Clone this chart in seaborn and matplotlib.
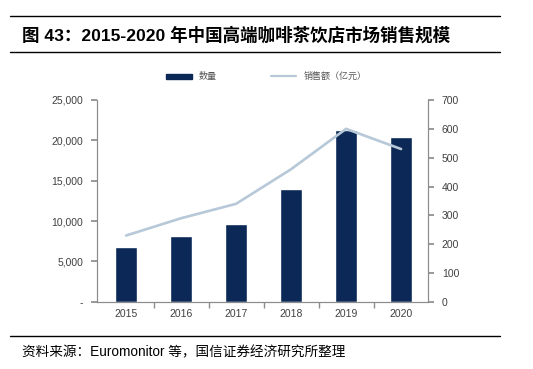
import matplotlib
matplotlib.use("Agg")
import matplotlib.pyplot as plt
import seaborn as sns
import pandas as pd
from matplotlib.ticker import FuncFormatter, FixedLocator
from matplotlib.lines import Line2D
from matplotlib.patches import Patch

years = ["2015", "2016", "2017", "2018", "2019", "2020"]
store_count = [6800, 8200, 9700, 14000, 21300, 20400]
sales = [230, 290, 340, 460, 600, 530]
bar_label = "数量"
line_label = "销售额（亿元）"
title = "图 43：2015-2020 年中国高端咖啡茶饮店市场销售规模"
source = "资料来源：Euromonitor 等，国信证券经济研究所整理"

sns.set_theme(style="white")
plt.rcParams["font.family"] = ["Liberation Sans", "Noto Sans CJK SC", "DejaVu Sans"]

df = pd.DataFrame({"year": years, "count": store_count, "sales": sales})

fig = plt.figure(figsize=(5.33, 3.69), dpi=100)
ax = fig.add_axes([0.182, 0.182, 0.621, 0.547])

bar_color = "#0b2856"
line_color = "#b7c8d8"
spine_color = "#8c8c8c"
tick_color = "#404040"

sns.barplot(data=df, x="year", y="count", color=bar_color, width=0.41,
            saturation=1, ax=ax)
ax.set_xlim(-0.53, 5.49)
ax.set_ylim(0, 25000)
ax.set_yticks([0, 5000, 10000, 15000, 20000, 25000])
ax.yaxis.set_major_formatter(FuncFormatter(lambda v, p: "-" if v == 0 else f"{v:,.0f}"))
ax.set_xlabel("")
ax.set_ylabel("")

ax2 = ax.twinx()
sns.lineplot(data=df, x="year", y="sales", color=line_color, linewidth=1.9,
             sort=False, ax=ax2)
ax2.set_ylim(0, 700)
ax2.set_yticks(range(0, 701, 100))
ax2.set_ylabel("")
ax2.set_xlim(-0.53, 5.49)

for a in (ax, ax2):
    for s in a.spines.values():
        s.set_color(spine_color)
        s.set_linewidth(0.8)
    a.spines["top"].set_visible(False)
    a.grid(False)

ax.tick_params(axis="y", which="both", left=True, length=4, color=spine_color,
               labelsize=7.5, labelcolor=tick_color, pad=6)
ax.tick_params(axis="x", length=0, labelsize=7.5, labelcolor=tick_color, pad=5)
ax.xaxis.set_minor_locator(FixedLocator([0.5, 1.5, 2.5, 3.5, 4.5]))
ax.tick_params(axis="x", which="minor", bottom=True, length=4, color=spine_color)
ax2.tick_params(axis="y", right=True, length=4, color=spine_color,
                labelsize=7.5, labelcolor=tick_color, pad=6)

handles = [Patch(facecolor=bar_color, edgecolor=bar_color),
           Line2D([0], [0], color=line_color, linewidth=1.6)]
fig.legend(handles, [bar_label, line_label], loc="center", ncol=2,
           bbox_to_anchor=(0.50, 0.792), frameon=False, fontsize=6.5,
           handlelength=2.8, handleheight=0.5, columnspacing=6,
           labelcolor="#555555")

# header / footer
fig.add_artist(Line2D([0.019, 0.938], [0.957, 0.957], color="black", linewidth=1.0,
                      transform=fig.transFigure))
fig.add_artist(Line2D([0.019, 0.938], [0.859, 0.859], color="black", linewidth=1.0,
                      transform=fig.transFigure))
fig.add_artist(Line2D([0.019, 0.938], [0.089, 0.089], color="black", linewidth=1.0,
                      transform=fig.transFigure))
fig.text(0.041, 0.906, title, fontsize=12.6, fontweight="bold", va="center", ha="left",
         color="black")
fig.text(0.041, 0.046, source, fontsize=9.8, va="center", ha="left", color="black")

fig.savefig("out.png", dpi=100)
